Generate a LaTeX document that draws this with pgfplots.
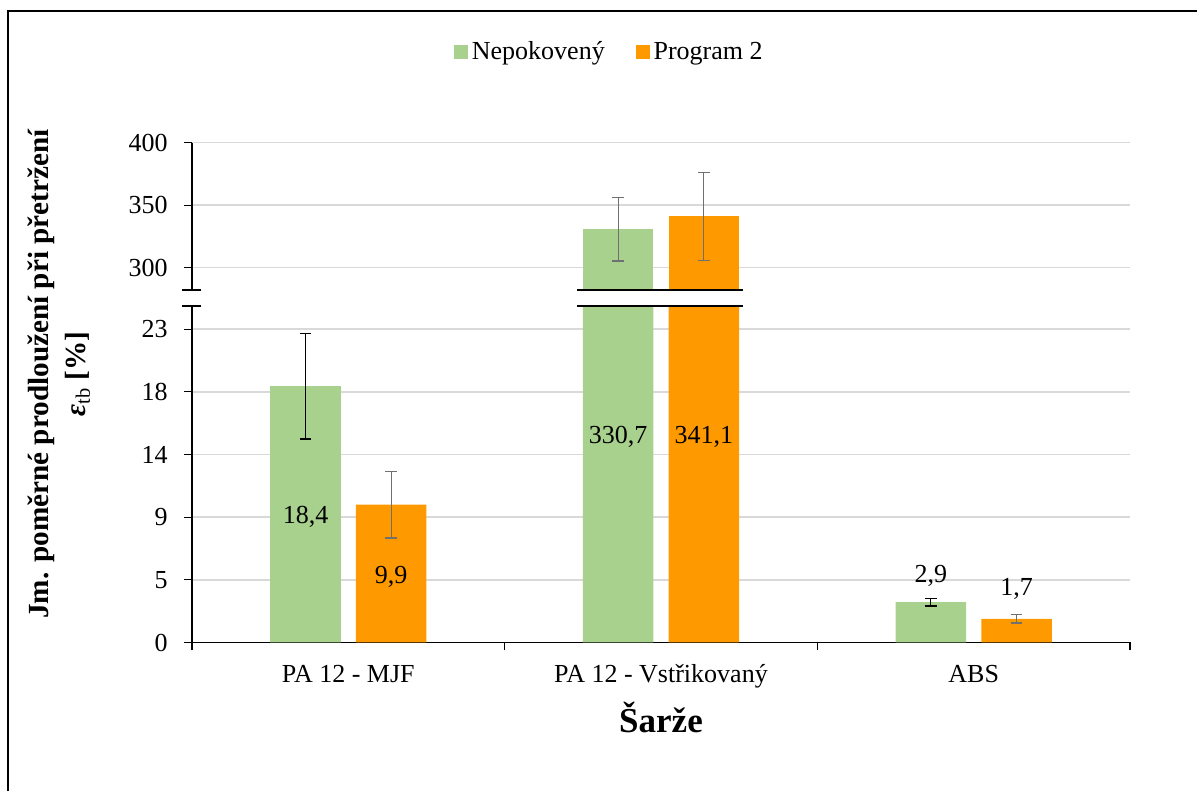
\documentclass[border=0pt]{standalone}
\usepackage{fontspec}
\setmainfont{Liberation Serif}
\usepackage{pgfplots}
\usepackage{pgfplotstable}
\pgfplotsset{compat=1.18}

\definecolor{zelena}{HTML}{A9D18E}
\definecolor{oranz}{HTML}{FF9900}
\definecolor{mrizka}{HTML}{D9D9D9}
\definecolor{chyba}{HTML}{707070}

% x  nepokoveny  chyba  program 2  chyba
\pgfplotstableread{
x  nep    nepe  pr2    pr2e
0  18.4   3.8   9.9    2.4
1  330.7  25.2  341.1  35.2
2  2.9    0.28  1.7    0.31
}\data

\newcommand{\pismo}{\fontsize{13}{15.6}\selectfont}

\pgfplotsset{
  sloupce/.style={
    scale only axis, width=469pt,
    xmin=-0.5, xmax=2.5,
    ybar, bar width=0.2255,
    ymajorgrids, grid style={mrizka, line width=0.75pt},
    tick align=outside,
    major tick length=4pt,
    tick style={black, line width=0.6pt},
    axis line style={black, line width=0.75pt},
    ticklabel style={font=\pismo},
    yticklabel style={inner sep=0pt, xshift=-8pt},
    error bars/y dir=both, error bars/y explicit,
  },
}

\begin{document}
\begin{tikzpicture}
\useasboundingbox (0,0) rectangle (598.5pt,395.5pt);
\draw[line width=0.7pt] (4pt,0) -- (4pt,390pt) -- (598.5pt,390pt);

% dolni cast
\begin{axis}[sloupce, at={(96pt,74.25pt)}, anchor=south west, height=168.25pt,
  ymin=0, ymax=24.16,
  axis lines*=left,
  ytick={0,4.5,9,13.5,18,22.5}, yticklabels={0,5,9,14,18,23},
  xtick={-0.5,0.5,1.5,2.5}, xticklabels={,,,},
  extra x ticks={0,1,2},
  extra x tick labels={PA 12 - MJF, PA 12 - Vstřikovaný, ABS},
  extra x tick style={major tick length=0pt, xticklabel style={anchor=base, yshift=-20pt}},
  xlabel={Šarže},
  every axis x label/.style={at={(rel axis cs:0.5,-0.2214)}, anchor=center,
    font=\bfseries\fontsize{17.5}{20}\selectfont},
  ylabel={\begin{tabular}{@{}c@{}}Jm. poměrné prodloužení při přetržení\\[1pt]
    {\itshape ε}\textsubscript{\mdseries tb} [\%]\end{tabular}},
  every axis y label/.style={at={(rel axis cs:-0.1407,0.798)}, rotate=90, anchor=center,
    font=\bfseries\fontsize{14.6}{17.5}\selectfont},
  legend style={at={(0.446,1.755)}, anchor=center, draw=none, font=\pismo,
    legend columns=2, /tikz/every even column/.append style={column sep=13.5pt}},
]
\addplot[fill=zelena, draw=none, bar shift=-0.137, forget plot,
  error bars/.cd, error bar style={black, line width=0.65pt},
  error mark options={rotate=90, black, mark size=2.9pt, line width=0.65pt}]
  table[x=x, y=nep, y error=nepe] {\data};
\addplot[fill=oranz, draw=none, bar shift=0.137, forget plot,
  error bars/.cd, error bar style={chyba, line width=0.65pt},
  error mark options={rotate=90, chyba, mark size=2.9pt, line width=0.65pt}]
  table[x=x, y=pr2, y error=pr2e] {\data};
\addlegendimage{legend image code/.code={\fill[zelena] (-1pt,-3.25pt) rectangle (5.5pt,3.25pt);}}
\addlegendentry{Nepokovený}
\addlegendimage{legend image code/.code={\fill[oranz] (-1pt,-3.25pt) rectangle (5.5pt,3.25pt);}}
\addlegendentry{Program 2}
\node[font=\pismo] at (axis cs:-0.137,9.03) {18,4};
\node[font=\pismo] at (axis cs:0.137,4.74) {9,9};
\node[font=\pismo] at (axis cs:0.863,14.75) {330,7};
\node[font=\pismo] at (axis cs:1.137,14.75) {341,1};
\node[font=\pismo] at (axis cs:1.863,4.77) {2,9};
\node[font=\pismo] at (axis cs:2.137,3.84) {1,7};
\end{axis}

% horni cast
\begin{axis}[sloupce, at={(96pt,250.5pt)}, anchor=south west, height=73.65pt,
  ymin=282.2, ymax=400,
  axis y line*=left, axis x line=none, xtick=\empty,
  ytick={300,350,400}, yticklabels={300,350,400},
]
\addplot[fill=zelena, draw=none, bar shift=-0.137, restrict y to domain=200:500,
  error bars/.cd, error bar style={chyba, line width=0.65pt},
  error mark options={rotate=90, chyba, mark size=2.9pt, line width=0.65pt}]
  table[x=x, y=nep, y error=nepe] {\data};
\addplot[fill=oranz, draw=none, bar shift=0.137, restrict y to domain=200:500,
  error bars/.cd, error bar style={chyba, line width=0.65pt},
  error mark options={rotate=90, chyba, mark size=2.9pt, line width=0.65pt}]
  table[x=x, y=pr2, y error=pr2e] {\data};
\end{axis}

% preruseni osy
\draw[line width=0.75pt] (91pt,250.5pt) -- (100.5pt,250.5pt) (91pt,242.5pt) -- (100.5pt,242.5pt);
\draw[line width=0.9pt] (288.5pt,250.5pt) -- (371.5pt,250.5pt) (288.5pt,242.5pt) -- (371.5pt,242.5pt);
\end{tikzpicture}
\end{document}
